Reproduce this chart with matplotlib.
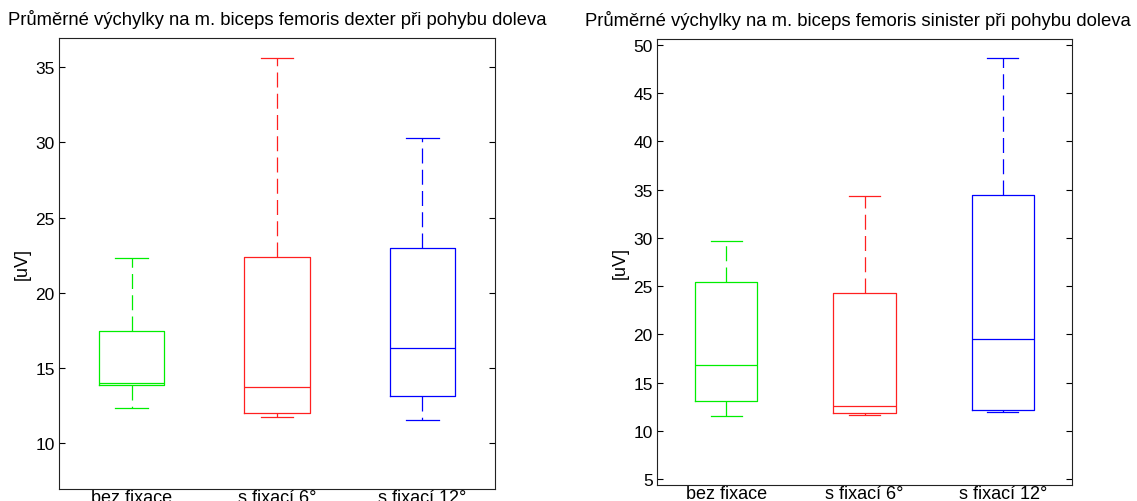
import matplotlib.pyplot as plt

plt.rcParams['font.family'] = ['Liberation Sans', 'DejaVu Sans']

groups = ['bez fixace', 's fixací 6°', 's fixací 12°']
colors = ['#00ee00', '#ff2020', '#0000ff']

# dexter: lower whisker, Q1, median, Q3, upper whisker
dex_low = [12.3, 11.7, 11.5]
dex_q1 = [13.85, 12.0, 13.1]
dex_med = [14.0, 13.7, 16.3]
dex_q3 = [17.45, 22.4, 23.0]
dex_high = [22.3, 35.6, 30.3]

# sinister
sin_low = [11.5, 11.6, 11.9]
sin_q1 = [13.1, 11.8, 12.2]
sin_med = [16.8, 12.6, 19.5]
sin_q3 = [25.4, 24.25, 34.45]
sin_high = [29.7, 34.3, 48.6]


def draw(ax, low, q1, med, q3, high, title, ylim, yticks, tx=0.5):
    stats = []
    for i in range(len(groups)):
        stats.append({'whislo': low[i], 'q1': q1[i], 'med': med[i],
                      'q3': q3[i], 'whishi': high[i], 'fliers': [],
                      'label': groups[i]})
    parts = ax.bxp(stats, positions=[1, 2, 3], widths=0.45,
                   showfliers=False, manage_ticks=False)
    for i, c in enumerate(colors):
        parts['boxes'][i].set(color=c, linewidth=0.9)
        parts['medians'][i].set(color=c, linewidth=0.9)
        for j in (2 * i, 2 * i + 1):
            parts['whiskers'][j].set(color=c, linewidth=0.9, linestyle=(0, (12, 5)))
            parts['caps'][j].set(color=c, linewidth=0.9)
    ax.set_xlim(0.5, 3.5)
    ax.set_ylim(*ylim)
    ax.set_yticks(yticks)
    ax.set_xticks([1, 2, 3])
    ax.set_xticklabels(groups, fontsize=13)
    ax.tick_params(axis='x', length=0, pad=0)
    ax.tick_params(axis='y', direction='in', length=4, right=True,
                   labelsize=12.5, width=0.8, pad=3)
    ax.set_ylabel('[uV]', fontsize=13, labelpad=3)
    ax.set_title(title, fontsize=13.3, pad=10, x=tx)
    for s in ax.spines.values():
        s.set_linewidth(0.8)
        s.set_color('#222222')


fig = plt.figure(figsize=(11.37, 5.02), dpi=100)
ax1 = fig.add_axes([59 / 1137, 1 - 490 / 502, 436 / 1137, 451 / 502])
ax2 = fig.add_axes([657 / 1137, 1 - 486 / 502, 415 / 1137, 446 / 502])

draw(ax1, dex_low, dex_q1, dex_med, dex_q3, dex_high,
     'Průměrné výchylky na m. biceps femoris dexter při pohybu doleva',
     (6.93, 36.95), [10, 15, 20, 25, 30, 35])
draw(ax2, sin_low, sin_q1, sin_med, sin_q3, sin_high,
     'Průměrné výchylky na m. biceps femoris sinister při pohybu doleva',
     (4.38, 50.6), [5, 10, 15, 20, 25, 30, 35, 40, 45, 50], tx=0.483)

fig.savefig('out.png', dpi=100)
